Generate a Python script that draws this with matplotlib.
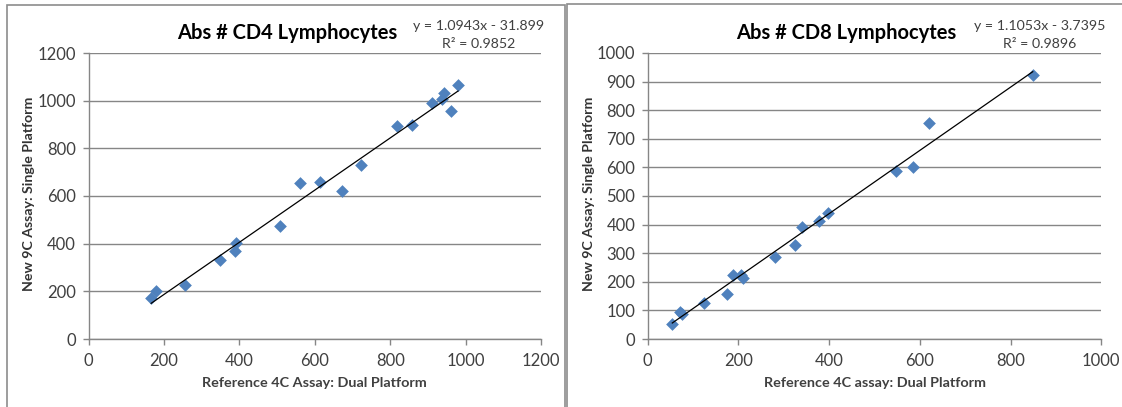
import matplotlib

matplotlib.use("Agg")
import matplotlib.pyplot as plt
import numpy as np
from matplotlib.patches import Rectangle

plt.rcParams["font.family"] = ["Lato", "DejaVu Sans"]

# CD4 panel
cd4_ref = [166, 180, 255, 348, 388, 390, 508, 560, 614, 671, 722, 818, 857, 912, 938, 942, 960, 980]
cd4_new = [170, 200, 226, 332, 371, 403, 476, 654, 658, 622, 731, 893, 900, 990, 1007, 1032, 955, 1065]
cd4_fit = (1.0943, -31.899)
cd4_eq = "y = 1.0943x - 31.899\nR² = 0.9852"

# CD8 panel
cd8_ref = [54, 70, 75, 125, 175, 189, 206, 211, 281, 325, 341, 377, 398, 547, 585, 620, 849]
cd8_new = [52, 94, 86, 127, 156, 224, 224, 212, 286, 328, 393, 411, 439, 587, 601, 755, 922]
cd8_fit = (1.1053, -3.7395)
cd8_eq = "y = 1.1053x - 3.7395\nR² = 0.9896"

BLUE = "#4F81BD"
GRAY = "#868686"
TXT = "#404040"

W, H = 1122, 407
fig = plt.figure(figsize=(W / 100, H / 100), dpi=100)
fig.patch.set_facecolor("white")

# panel borders
fig.patches.append(Rectangle((7 / W, -0.01), 558 / W, 1 - 5 / H + 0.01,
                             transform=fig.transFigure, fill=False, ec="#8c8c8c", lw=1.2))
fig.patches.append(Rectangle((567 / W, -0.01), 0.6, 1 - 4 / H + 0.01,
                             transform=fig.transFigure, fill=False, ec="#8c8c8c", lw=1.2))


def panel(x0, x1, xs, ys, fit, eq, title, xlabel, xmax, ymax, ystep, xstep, title_x, eq_x, xl_x, yl_x):
    ax = fig.add_axes([x0 / W, (H - 339) / H, (x1 - x0) / W, 286 / H])
    ax.set_xlim(0, xmax)
    ax.set_ylim(0, ymax)
    ax.set_xticks(np.arange(0, xmax + 1, xstep))
    ax.set_yticks(np.arange(0, ymax + 1, ystep))
    ax.grid(axis="y", color=GRAY, lw=1.0)
    ax.set_axisbelow(True)
    for s in ["top", "right"]:
        ax.spines[s].set_visible(False)
    for s in ["left", "bottom"]:
        ax.spines[s].set_color(GRAY)
        ax.spines[s].set_linewidth(1.0)
    ax.tick_params(colors=GRAY, labelcolor=TXT, labelsize=12, length=4, width=1.0)
    ax.tick_params(axis="x", pad=6)
    ax.tick_params(axis="y", pad=5)

    xs = np.array(xs)
    ax.scatter(xs, ys, marker="D", s=42, color=BLUE, lw=0, zorder=3, clip_on=False)
    xx = np.array([xs.min(), xs.max()])
    ax.plot(xx, fit[0] * xx + fit[1], color="black", lw=0.9, zorder=4)

    fig.text(title_x / W, 1 - 33 / H, title, ha="center", va="center",
             fontsize=14.5, fontweight="bold", color="black")
    fig.text(eq_x / W, 1 - 35 / H, eq, ha="center", va="center",
             fontsize=10.2, color=TXT, linespacing=1.55)
    fig.text(xl_x / W, 1 - 383 / H, xlabel, ha="center", va="center",
             fontsize=10.4, fontweight="bold", color=TXT)
    fig.text(yl_x / W, 1 - 194 / H, "New 9C Assay: Single Platform", ha="center",
             va="center", rotation=90, fontsize=10.2, fontweight="bold", color="#333333")
    return ax


panel(88.6, 541, cd4_ref, cd4_new, cd4_fit, cd4_eq,
      "Abs # CD4 Lymphocytes", "Reference 4C Assay: Dual Platform",
      1200, 1200, 200, 200, 287, 478.6, 314.6, 29)
panel(647.8, 1101.2, cd8_ref, cd8_new, cd8_fit, cd8_eq,
      "Abs # CD8 Lymphocytes", "Reference 4C assay: Dual Platform",
      1000, 1000, 100, 200, 846.7, 1039.6, 874.7, 589)

fig.savefig("out.png", dpi=100, facecolor="white")
plt.close(fig)
